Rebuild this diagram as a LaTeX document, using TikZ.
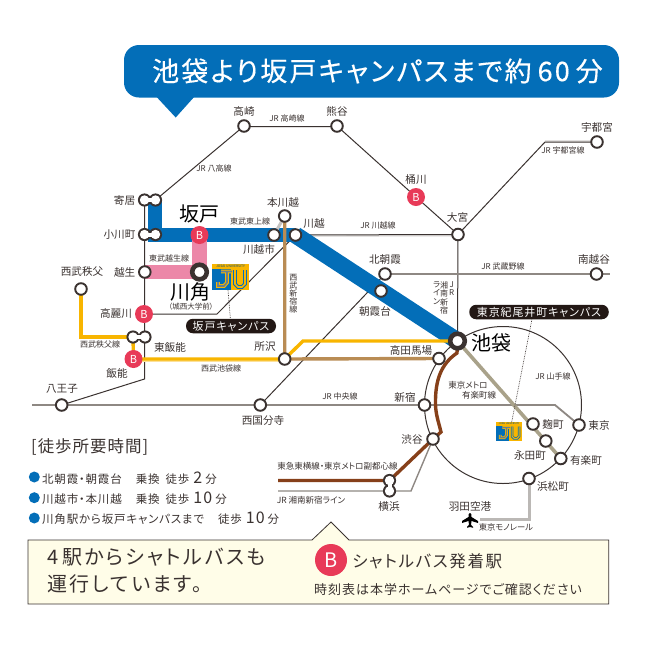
\documentclass[tikz,border=0pt]{standalone}
\usepackage{fontspec}
\setmainfont{Noto Sans CJK JP}[RawFeature={+palt}]
\usetikzlibrary{calc}
\pgfdeclarelayer{bg}
\pgfsetlayers{bg,main}
\definecolor{ink}{HTML}{3A3230}
\definecolor{pilc}{HTML}{231815}
\definecolor{jblue}{HTML}{036EB8}
\definecolor{pinkl}{HTML}{EC87A8}
\definecolor{busr}{HTML}{E83A58}
\definecolor{yel}{HTML}{F8B500}
\definecolor{tan}{HTML}{B98C54}
\definecolor{brn}{HTML}{86401A}
\definecolor{gry}{HTML}{8E8883}
\definecolor{bge}{HTML}{A9A28A}
\definecolor{cream}{HTML}{FFFDE8}
\newcommand{\fs}[1]{\fontsize{#1}{#1}\selectfont}
\newcommand{\lsp}[1]{\addfontfeature{LetterSpace=#1}}
\tikzset{
  x=1pt,y=-1pt,
  sta/.style={circle,draw=ink,line width=1.9pt,fill=white,minimum size=11.6pt,inner sep=0pt},
  big/.style={circle,draw=ink,line width=4.6pt,fill=white,minimum size=14.6pt,inner sep=0pt},
  bus/.style={circle,fill=busr,text=white,minimum size=18pt,inner sep=0pt,font=\fs{11}},
  lb/.style={text=ink,inner sep=0pt,font=\fs{10.6}},
  ll/.style={text=ink,inner sep=0pt,font=\fs{8}},
  hl/.style={text=black,inner sep=0pt,font=\fs{20}},
  vl/.style={text=ink,inner sep=0pt,font=\fs{8},align=center,anchor=north},
  pill/.style={fill=pilc,text=white,rounded corners=7pt,inner sep=0pt,minimum height=14.5pt,font=\fs{11}\lsp{8}},
  thin/.style={draw=ink,line width=1pt},
  shadow/.style={draw=gry!25,line width=1.6pt},
  mid/.style={draw=gry,line width=1.8pt},
  bul/.style={circle,fill=jblue,minimum size=11pt,inner sep=0pt},
  lg/.style={text=ink,inner sep=0pt,anchor=west,font=\fs{11.5}\lsp{7}},
  dotl/.style={draw=ink,line width=0.7pt,densely dotted},
  blobw/.style={circle,fill=white,minimum size=9.4pt,inner sep=0pt},
  blobo/.style={circle,fill=ink,minimum size=13.2pt,inner sep=0pt},
}
% horizontal or vertical double station
\newcommand{\blob}[5]{% name, x1,y1, x2,y2
  \node[blobo] (#1a) at (#2,#3) {};
  \node[blobo] (#1b) at (#4,#5) {};
  \node[blobw] (#1c) at (#2,#3) {};
  \node[blobw] (#1d) at (#4,#5) {};
  \draw[white,line width=4pt] (#1c.center) -- (#1d.center);
}
% campus logo: x,y of top-left corner, scale, name, caption size
\newcommand{\jlogo}[5]{%
 \begin{scope}[shift={(#1,#2)},xscale=#3,yscale=#3]
  \fill[yel] (0,0) rectangle (37,26);
  \fill[jblue] (0,5) rectangle (18.5,26);
  \node[inner sep=0pt,text=jblue!70!black,font=\fs{#5}] (#4) at (18.5,2.2) {JOSAI UNIVERSITY};
  \draw[yel,line width=#3*3.8pt] (9,7.5) -- (20,7.5) (15,7.5) -- (15,18.5) -- (12,22) -- (6,22) -- (6,18);
  \draw[gry!70!jblue,line width=#3*1.6pt] (9,7.5) -- (20,7.5) (15,7.5) -- (15,18.5) -- (12,22) -- (6,22) -- (6,18);
  \draw[jblue,line width=#3*3.8pt] (23,6) -- (23,20) -- (26,23) -- (30,23) -- (33,20) -- (33,6);
  \draw[yel,line width=#3*1.6pt] (23,6) -- (23,20) -- (26,23) -- (30,23) -- (33,20) -- (33,6);
 \end{scope}}
\begin{document}
\begin{tikzpicture}
\useasboundingbox (0,0) rectangle (649,649);
% ---------- header
\fill[jblue,rounded corners=15pt] (124,45) rectangle (619,97.5);
\fill[jblue] (155.7,96) -- (195,96) -- (175.7,117.5) -- cycle;
\node[text=white,inner sep=0pt,anchor=west,font=\fs{27}\lsp{8}\addfontfeature{FakeBold=0.4}] (title) at (152,71) {池袋より坂戸キャンパスまで約\hspace{6pt}60\hspace{6pt}分};
% ---------- bottom box
\draw[ink,line width=0.8pt,fill=cream] (28,540) -- (312,540) -- (331,522) -- (349,540) -- (608.7,540) -- (608.7,604) -- (28,604) -- cycle;
\node[text=ink,inner sep=0pt,anchor=west,font=\fs{20}\lsp{12}] (boxa) at (47,557) {4\hspace{4pt}駅からシャトルバスも};
\node[text=ink,inner sep=0pt,anchor=west,font=\fs{20}\lsp{12}] (boxb) at (47,584) {運行しています。};
\node[bus,minimum size=32pt,font=\fs{20}] (busbig) at (331,560) {B};
\node[text=ink,inner sep=0pt,anchor=west,font=\fs{16.5}\lsp{10}] (boxc) at (352,561) {シャトルバス発着駅};
\node[text=ink,inner sep=0pt,anchor=west,font=\fs{13}\lsp{7.5}] (boxd) at (314,590) {時刻表は本学ホームページでご確認ください};
% ---------- stations
\node[sta] (takasaki) at (244,126) {};
\node[sta] (kumagaya) at (337,126) {};
\node[bus] (okegawa) at (416,197) {B};
\node[sta] (omiya) at (458,234.5) {};
\node[sta] (utsunomiya) at (597,142) {};
\coordinate (utsbend) at (545,142);
\blob{yorii}{144.5}{200}{155.5}{200}
\blob{ogawa}{144.5}{234.5}{155.5}{234.5}
\node[bus] (sakado) at (199.5,235) {B};
\node[sta] (honkawagoe) at (284.7,216) {};
\node[sta] (kawagoeshi) at (274,235) {};
\node[sta] (kawagoe) at (295.5,235) {};
\node[sta] (ogose) at (144.8,272) {};
\node[big] (kawakado) at (199.5,272) {};
\node[sta] (chichibu) at (81,289) {};
\node[bus] (komagawa) at (144,314) {B};
\blob{higashi}{133}{337}{145}{337}
\node[bus] (hanno) at (133.5,359) {B};
\node[sta] (tokorozawa) at (284.7,359) {};
\node[sta] (hachioji) at (61.7,405) {};
\node[sta] (kokubunji) at (260.3,405) {};
\node[sta] (kitaasaka) at (385,274) {};
\node[sta] (asakadai) at (381,291) {};
\node[sta] (minamikoshi) at (596.5,274) {};
\node[big] (ikebukuro) at (457.5,341) {};
\node[sta] (takadanobaba) at (439,358.5) {};
\node[sta] (shinjuku) at (424.5,405) {};
\node[sta] (shibuya) at (433,439) {};
\node[sta] (tokyo) at (579,425) {};
\node[sta] (yurakucho) at (560.8,458.5) {};
\node[sta] (nagatacho) at (545.8,441) {};
\node[sta] (kojimachi) at (533,424) {};
\node[sta] (hamamatsu) at (529,478.5) {};
\blob{yokohama}{389.5}{480.5}{389.5}{491}
% free ends
\coordinate (chuow) at (32,405);
\coordinate (chuoe) at (555,405);
\coordinate (musae) at (610,274);
\coordinate (toyoko) at (278,480.5);
\coordinate (shonan) at (278,491);
\coordinate (shonanb) at (411,491);
\coordinate (hachib) at (144.5,379);
\coordinate (komab) at (217,314);
\coordinate (chib) at (81,337);
\coordinate (ikeb) at (303,341);
\coordinate (yamac) at (503,405);
\coordinate (monob) at (529,519);
\coordinate (monoe) at (480,519);
\coordinate (bluec) at (155,235);
\coordinate (bluet) at (155,200);
\coordinate (pinkc) at (199.5,272);
% ---------- lines
\begin{pgfonlayer}{bg}
 \draw[thin] (yamac) circle[radius=78.5];
 \draw[shadow] ($(takasaki.center)+(0,1.2)$) -- ($(kumagaya.center)+(0,1.2)$);
 \draw[shadow] ($(kawagoe.center)+(0,1.2)$) -- ($(omiya.center)+(0,1.2)$);
 \draw[shadow] ($(utsbend)+(0,-1)$) -- ($(utsunomiya.center)+(0,-1)$);
 \draw[thin] (takasaki.center) -- (kumagaya.center);
 \draw[thin] (kumagaya.center) -- (okegawa.center) -- (omiya.center);
 \draw[thin] (omiya.center) -- (utsbend) -- (utsunomiya.center);
 \draw[thin] (kawagoe.center) -- (omiya.center);
 \draw[thin] (omiya.center) -- (ikebukuro.center);
 \draw[mid] (kitaasaka.center) -- (musae);
 \draw[thin] (yoriib.center) -- (takasaki.center);
 \draw[thin] (yoriia.center) -- (hachib) -- (hachioji.center);
 \draw[thin] (komagawa.center) -- (komab) -- (kawagoe.center);
 \draw[thin] (kokubunji.center) -- (kitaasaka.center);
 \draw[mid] (chuow) -- (chuoe) -- (tokyo.center);
 \draw[draw=jblue,line width=14.8pt,line join=miter] (bluet) -- (bluec) -- (kawagoe.center);
 \draw[draw=jblue,line width=17pt] (kawagoe.center) -- (ikebukuro.center);
 \draw[draw=pinkl,line width=14.8pt] (sakado.center) -- (pinkc) -- (ogose.center);
 \draw[draw=gry!50,line width=3pt] (honkawagoe.center) -- (kawagoeshi.center);
 \draw[draw=yel,line width=3.4pt] (chichibu.center) -- (chib) -- (higashia.center);
 \draw[draw=yel,line width=3.4pt] (higashia.center) -- (hanno.center);
 \draw[draw=yel!40,line width=4.6pt] ($(hanno.center)+(0,1)$) -- ($(tokorozawa.center)+(0,1)$);
 \draw[draw=yel,line width=3.4pt] (hanno.center) -- (tokorozawa.center) -- (ikeb) -- (ikebukuro.center);
 \draw[draw=tan,line width=3.4pt] (honkawagoe.center) -- (tokorozawa.center) -- (takadanobaba.center);
 \draw[draw=bge,line width=3.6pt] (ikebukuro.center) -- (yurakucho.center);
 \draw[draw=brn,line width=3.4pt] (ikebukuro.center) -- (457,353) .. controls (441,364) and (435,380) .. (435.5,405) .. controls (436,415) and (438,420) .. (441,432) -- (shibuya.center);
 \draw[draw=brn,line width=3.4pt] (shibuya.center) -- (yokohamaa.center) -- (toyoko);
 \draw[draw=gry,line width=1.4pt] (shonan) -- (shonanb) -- (shibuya.center);
 \draw[draw=gry!60,line width=3pt] (hamamatsu.center) -- (monob) -- (monoe);
\end{pgfonlayer}
% ---------- logos
\jlogo{212}{264}{1}{ja}{3.4}
\jlogo{496}{422.3}{0.7}{jb}{2.4}
\coordinate (loga) at (228,290);
\coordinate (logb) at (511.7,422);
% ---------- campus tags
\node[pill,minimum width=90pt] (sakadocamp) at (231,326) {坂戸キャンパス};
\node[pill,minimum width=139.5pt] (kioicamp) at (539,312) {東京紀尾井町キャンパス};
\coordinate (kioidot) at (532,319);
\draw[dotl] (loga) -- (sakadocamp);
\draw[dotl] (logb) -- (kioidot);
% ---------- plane
\fill[black] (470,513) .. controls (471.5,513) and (471.5,515) .. (471.5,517)
  -- (478,521) -- (478,523) -- (471.5,521) -- (471,525) -- (473,526.8) -- (473,527.8) -- (470,527) -- (467,527.8) -- (467,526.8) -- (469,525) -- (468.5,521) -- (462,523) -- (462,521) -- (468.5,517) .. controls (468.5,515) and (468.5,513) .. (470,513) -- cycle;
% ---------- station labels
\node[lb] (t1) at (244,111) {高崎};
\node[lb] (t2) at (337,111) {熊谷};
\node[lb] (t3) at (416,180) {桶川};
\node[lb] (t4) at (457.5,217) {大宮};
\node[lb] (t5) at (597,127) {宇都宮};
\node[lb] (t6) at (124.5,200) {寄居};
\node[lb] (t7) at (119.5,234.5) {小川町};
\node[hl] (t8) at (199,214) {坂戸};
\node[lb] (t9) at (283,203) {本川越};
\node[lb] (t10) at (259,249) {川越市};
\node[lb] (t11) at (314,224) {川越};
\node[lb] (t12) at (124.7,272) {越生};
\node[lb] (t13) at (82,272) {西武秩父};
\node[hl] (t14) at (190.5,292) {川角};
\node[ll,font=\fs{7.5}] (t15) at (191,307) {（城西大学前）};
\node[lb] (t16) at (116,314) {高麗川};
\node[lb] (t17) at (170,347) {東飯能};
\node[lb] (t18) at (117,373) {飯能};
\node[lb] (t19) at (265,347) {所沢};
\node[lb] (t20) at (62,389) {八王子};
\node[lb] (t21) at (263,420) {西国分寺};
\node[lb] (t22) at (385,259) {北朝霞};
\node[lb] (t23) at (594,259) {南越谷};
\node[lb] (t24) at (375,311) {朝霞台};
\node[hl] (t25) at (491,343) {池袋};
\node[lb] (t26) at (411,350) {高田馬場};
\node[lb] (t27) at (405,397) {新宿};
\node[lb] (t28) at (553,424) {麹町};
\node[lb] (t29) at (599,425) {東京};
\node[lb] (t30) at (412,439) {渋谷};
\node[lb] (t31) at (530,455) {永田町};
\node[lb] (t32) at (586,460) {有楽町};
\node[lb] (t33) at (553,486) {浜松町};
\node[lb] (t34) at (389,506) {横浜};
\node[lb] (t35) at (470,506) {羽田空港};
% ---------- line labels
\node[ll] (l1) at (287,118.5) {JR 高崎線};
\node[ll] (l2) at (214,168) {JR 八高線};
\node[ll] (l3) at (250,221) {東武東上線};
\node[ll] (l4) at (169,258) {東武越生線};
\node[ll] (l5) at (100,344) {西武秩父線};
\node[ll] (l6) at (221,368) {西武池袋線};
\node[ll] (l7) at (378,225.5) {JR 川越線};
\node[ll] (l8) at (563,150) {JR 宇都宮線};
\node[ll] (l9) at (503,266.5) {JR 武蔵野線};
\node[ll] (l10) at (340,396) {JR 中央線};
\node[ll] (l11) at (553,376.7) {JR 山手線};
\node[ll,font=\fs{8.5}] (l12) at (468,385) {東京メトロ};
\node[ll,font=\fs{8.5}] (l13) at (479,395.5) {有楽町線};
\node[ll,font=\fs{8.5}] (l14) at (337.5,466) {東急東横線・東京メトロ副都心線};
\node[ll,font=\fs{8.5}] (l15) at (311,500) {JR 湘南新宿ライン};
\node[ll,font=\fs{8.3}] (l16) at (506,527) {東京モノレール};
\node[vl] (v1) at (293.3,274.5) {西\\武\\新\\宿\\線};
\node[vl] (v2) at (436.7,281.5) {ラ\\[0.3pt]イ\\[0.3pt]ン};
\node[vl] (v3) at (444.2,281.5) {湘\\[0.3pt]南\\[0.3pt]新\\[0.3pt]宿};
\node[vl] (v4) at (451.7,281.5) {J\\[0.3pt]R};
% ---------- legend
\node[text=ink,inner sep=0pt,anchor=west,font=\fs{16.5}\lsp{6}] (lgt) at (31,447) {[徒歩所要時間]};
\node[bul] (b1) at (34.3,477) {};
\node[bul] (b2) at (34.3,497.7) {};
\node[bul] (b3) at (34.3,518) {};
\node[lg] (g1) at (42,478) {北朝霞・朝霞台\hspace{14pt}乗換\hspace{6pt}徒歩\hspace{4pt}{\fs{16}2}\hspace{3pt}分};
\node[lg] (g2) at (42,498) {川越市・本川越\hspace{14pt}乗換\hspace{6pt}徒歩\hspace{4pt}{\fs{16}10}\hspace{3pt}分};
\node[lg] (g3) at (42,518) {川角駅から坂戸キャンパスまで\hspace{14pt}徒歩\hspace{4pt}{\fs{16}10}\hspace{3pt}分};
\end{tikzpicture}
\end{document}
